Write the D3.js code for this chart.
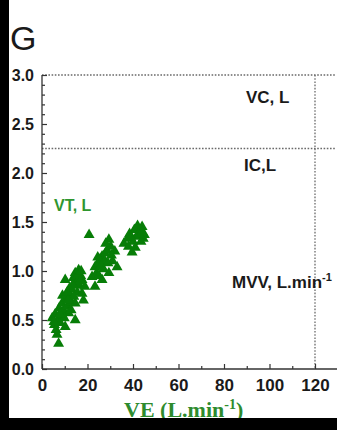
<!DOCTYPE html>
<html>
<head>
<meta charset="utf-8">
<script src="https://cdn.jsdelivr.net/npm/d3@7"></script>
<style>
  html, body { margin: 0; padding: 0; background: #fff; }
  svg { display: block; }
</style>
</head>
<body>
<svg id="chart" width="337" height="430"></svg>
<script>
// Tidal volume (VT) against minute ventilation (VE)
const ve = [4.5, 5.5, 5.8, 6.2, 6.6, 7.3, 6.8, 7.5, 8.0, 8.8, 8.8, 9.5, 10.2, 10.2, 10.5, 11.2, 11.7, 12.0, 12.5, 13.2,
            13.0, 13.8, 14.6, 14.6, 14.6, 15.2, 15.5, 16.1, 16.5, 17.0, 17.6, 17.6, 18.2, 18.8,
            9.0, 9.8, 11.0, 12.8, 14.0, 15.8, 16.8, 13.5, 11.5, 7.8, 5.2, 17.2,
            20.7,
            22.0, 23.3, 23.3, 24.0, 24.8, 25.5, 26.4, 26.4, 27.0, 27.8, 28.6, 29.4, 29.4, 30.2, 31.0, 33.0, 32.0,
            25.0, 27.5, 28.0, 30.5, 24.5, 26.0, 29.0,
            36.0, 37.5, 38.5, 39.6, 40.6, 41.5, 42.0, 43.0, 44.0, 44.5, 45.0, 43.5, 40.0,
            38.0, 41.0, 42.5, 39.0, 44.0];
const vt = [0.52, 0.45, 0.56, 0.40, 0.35, 0.26, 0.50, 0.62, 0.47, 0.67, 0.55, 0.60, 0.43, 0.91, 0.72, 0.64, 0.57, 0.82, 0.75, 0.81,
            0.68, 0.93, 0.98, 0.67, 0.50, 0.88, 0.78, 1.01, 0.85, 0.95, 0.91, 0.77, 0.70, 0.84,
            0.75, 0.52, 0.78, 0.60, 0.74, 0.96, 0.90, 0.86, 0.70, 0.56, 0.48, 1.00,
            1.37,
            0.94, 1.04, 0.84, 0.98, 1.08, 1.12, 1.15, 0.91, 1.02, 1.18, 1.21, 1.32, 0.98, 1.25, 1.10, 1.04, 1.20,
            0.95, 1.10, 1.28, 1.16, 1.14, 1.05, 1.08,
            1.28, 1.33, 1.38, 1.19, 1.42, 1.35, 1.46, 1.40, 1.45, 1.33, 1.37, 1.30, 1.30,
            1.25, 1.24, 1.38, 1.34, 1.40];

// Reference levels: vital capacity, inspiratory capacity, MVV
const vcLevel = 3.0;
const icLevel = 2.25;
const mvvLevel = 120;

const xMajor = [0, 20, 40, 60, 80, 100, 120];
const xMinor = [10, 30, 50, 70, 90, 110, 130];
const yMajor = [0.0, 0.5, 1.0, 1.5, 2.0, 2.5, 3.0];
const yMinor = [0.1, 0.2, 0.3, 0.4, 0.6, 0.7, 0.8, 0.9, 1.1, 1.2, 1.3, 1.4, 1.6, 1.7, 1.8, 1.9,
                2.1, 2.2, 2.3, 2.4, 2.6, 2.7, 2.8, 2.9];

const svg = d3.select("#chart");
const W = 337, H = 430;

const x = d3.scaleLinear().domain([0, 130]).range([42, 42 + 130 * 2.275]);
const y = d3.scaleLinear().domain([0, 3]).range([369, 75]);

const axisColor = "#333";
const green = "#077d07";

svg.append("rect").attr("width", W).attr("height", H).attr("fill", "#fff");

// Panel letter
svg.append("text").attr("x", 10).attr("y", 50)
  .attr("font-family", "Liberation Sans, Arial, sans-serif")
  .attr("font-size", 34).attr("fill", "#1a1a1a").text("G");

// Dotted reference lines
const dot = { stroke: "#6a6a6a", "stroke-width": 1.3, "stroke-dasharray": "1.6,1.6" };
function dotted(x1, y1, x2, y2) {
  const l = svg.append("line").attr("x1", x1).attr("y1", y1).attr("x2", x2).attr("y2", y2);
  Object.entries(dot).forEach(([k, v]) => l.attr(k, v));
}
dotted(x(0), y(vcLevel), 335, y(vcLevel));
dotted(x(0), y(icLevel), 335, y(icLevel));
dotted(x(mvvLevel), y(vcLevel), x(mvvLevel), y(0));

// Axes
const gx = svg.append("g").attr("transform", `translate(0,${y(0)})`);
gx.call(d3.axisBottom(x).tickValues(xMinor).tickSize(-3).tickFormat(""));
gx.call(g => g.append("g").call(d3.axisBottom(x).tickValues(xMajor).tickSize(-5).tickPadding(10)
  .tickFormat(d3.format("d"))));

const gy = svg.append("g").attr("transform", `translate(${x(0)},0)`);
gy.call(d3.axisLeft(y).tickValues(yMinor).tickSize(-3).tickFormat(""));
gy.call(g => g.append("g").call(d3.axisLeft(y).tickValues(yMajor).tickSize(-5).tickPadding(8)
  .tickFormat(d3.format(".1f"))));

[gx, gy].forEach(g => {
  g.selectAll(".tick line").attr("stroke", axisColor).attr("stroke-width", 1.2);
  g.selectAll("path.domain").remove();
});
gx.append("line").attr("x1", x(0)).attr("x2", W).attr("stroke", axisColor).attr("stroke-width", 1.3);
gy.append("line").attr("y1", y(0)).attr("y2", y(3)).attr("stroke", axisColor).attr("stroke-width", 1.3);

gx.selectAll(".tick text").attr("font-family", "Liberation Sans, Arial, sans-serif")
  .attr("font-size", 17).attr("font-weight", "bold").attr("fill", "#1a1a1a");
gy.selectAll(".tick text").attr("font-family", "Liberation Sans, Arial, sans-serif")
  .attr("font-size", 16).attr("font-weight", "bold").attr("fill", "#1a1a1a");

// Data points
svg.append("g").selectAll("path").data(ve.map((v, i) => [v, vt[i]])).join("path")
  .attr("transform", d => `translate(${x(d[0])},${y(d[1])})`)
  .attr("d", d3.symbol(d3.symbolTriangle, 52))
  .attr("fill", green);

// Annotations
const lab = (tx, ty, s, size, color) => svg.append("text").attr("x", tx).attr("y", ty)
  .attr("font-family", "Liberation Sans, Arial, sans-serif").attr("font-weight", "bold")
  .attr("font-size", size).attr("fill", color).text(s);
lab(246, 103, "VC, L", 17, "#1a1a1a");
lab(244, 171, "IC,L", 17, "#1a1a1a");
const mvv = lab(232, 288, "MVV, L.min", 17, "#1a1a1a");
mvv.append("tspan").attr("dy", -7).attr("font-size", 11).text("-1");
lab(54, 211, "VT, L", 16, "#2f962f");

// Axis title
const xt = svg.append("text").attr("x", 124).attr("y", 417)
  .attr("font-family", "Liberation Serif, Times New Roman, serif").attr("font-weight", "bold")
  .attr("font-size", 22).attr("fill", "#2e8b2e").text("VE (L.min");
xt.append("tspan").attr("dy", -8).attr("font-size", 14).text("-1");
xt.append("tspan").attr("dy", 8).text(")");

// Dark borders on left and bottom edges
svg.append("rect").attr("x", 0).attr("y", 0).attr("width", 9).attr("height", H).attr("fill", "#000");
svg.append("rect").attr("x", 0).attr("y", 418).attr("width", W).attr("height", H - 418).attr("fill", "#000");
</script>
</body>
</html>
